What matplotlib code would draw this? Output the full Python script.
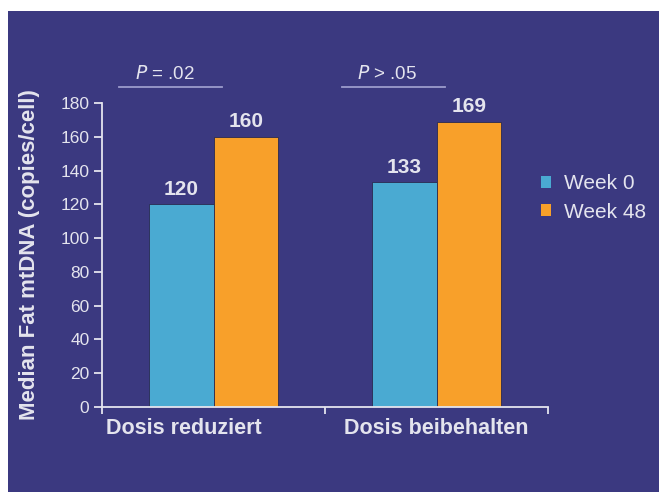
import numpy as np
import matplotlib
matplotlib.use('Agg')
import matplotlib.pyplot as plt
from matplotlib.patches import Rectangle, Patch
from matplotlib.transforms import ScaledTranslation

plt.rcParams['font.family'] = ['Liberation Sans', 'DejaVu Sans']

# data
groups = ['Dosis reduziert', 'Dosis beibehalten']
series = ['Week 0', 'Week 48']
week0 = [120, 133]
week48 = [160, 169]
pvals = ['$P$ = .02', '$P$ > .05']

bg = '#3b3980'
fg = '#e4e4ee'
cols = ['#4aaad2', '#f8a02a']

fig = plt.figure(figsize=(6.59, 4.92), dpi=100)
fig.patch.set_facecolor('white')
fig.patches.append(Rectangle((8/659, 0), 1, 1 - 11/492, transform=fig.transFigure,
                             facecolor=bg, edgecolor='none', zorder=-10))

ax = fig.add_axes([102/659, 1 - 407/492, 446/659, 304/492])
ax.set_facecolor(bg)
ax.patch.set_alpha(0)

x = np.arange(len(groups))
w = 0.29
b0 = ax.bar(x - w/2, week0, w, color=cols[0], edgecolor='#2a2a50', linewidth=0.6)
b1 = ax.bar(x + w/2, week48, w, color=cols[1], edgecolor='#2a2a50', linewidth=0.6)
for bars, vals in [(b0, week0), (b1, week48)]:
    for r, v in zip(bars, vals):
        ax.annotate(str(v), (r.get_x() + r.get_width()/2, v), xytext=(0, 4),
                    textcoords='offset points', ha='center', va='bottom',
                    fontsize=15, fontweight='bold', color=fg)

# p-value brackets (drawn left of the group centre like the original)
for i, p in enumerate(pvals):
    ax.plot([i - 0.425, i + 0.04], [189.5, 189.5], color='#9c9ccc', lw=1.3,
            clip_on=False)
    ax.text(i - 0.22, 192, p, ha='center', va='bottom', fontsize=13.5,
            color=fg, clip_on=False)

ax.set_ylim(0, 180)
ax.set_xlim(-0.5, 1.5)
ax.set_yticks(np.arange(0, 181, 20))
ax.tick_params(axis='y', colors=fg, labelsize=12.5, length=6, width=1.3, pad=3)
ax.set_xticks([-0.5, 0.5, 1.5], ['', '', ''])
ax.tick_params(axis='x', which='major', colors=fg, length=5, width=1.3)
ax.set_xticks(x, groups, minor=True)
ax.tick_params(axis='x', which='minor', length=0, labelsize=15.5, labelcolor=fg, pad=8)
for lab in ax.get_xticklabels(minor=True):
    lab.set_fontweight('bold')
ax.get_xticklabels(minor=True)[0].set_transform(
    ax.get_xticklabels(minor=True)[0].get_transform() + ScaledTranslation(-0.3, 0, fig.dpi_scale_trans))

for s in ['top', 'right']:
    ax.spines[s].set_visible(False)
for s in ['left', 'bottom']:
    ax.spines[s].set_color(fg)
    ax.spines[s].set_linewidth(1.3)

fig.text(30/659, 1 - 255/492, 'Median Fat mtDNA (copies/cell)', rotation=90,
         ha='center', va='center', fontsize=16, fontweight='bold', color=fg)

handles = [Patch(facecolor=c, edgecolor='none') for c in cols]
fig.legend(handles, series, loc='center left', bbox_to_anchor=(541/659, 1 - 198/492),
           frameon=False, fontsize=15, labelcolor=fg, handlelength=0.5,
           handleheight=0.5, handletextpad=0.6, labelspacing=0.45,
           borderpad=0, borderaxespad=0)

fig.savefig('out.png', dpi=100, facecolor='white')
